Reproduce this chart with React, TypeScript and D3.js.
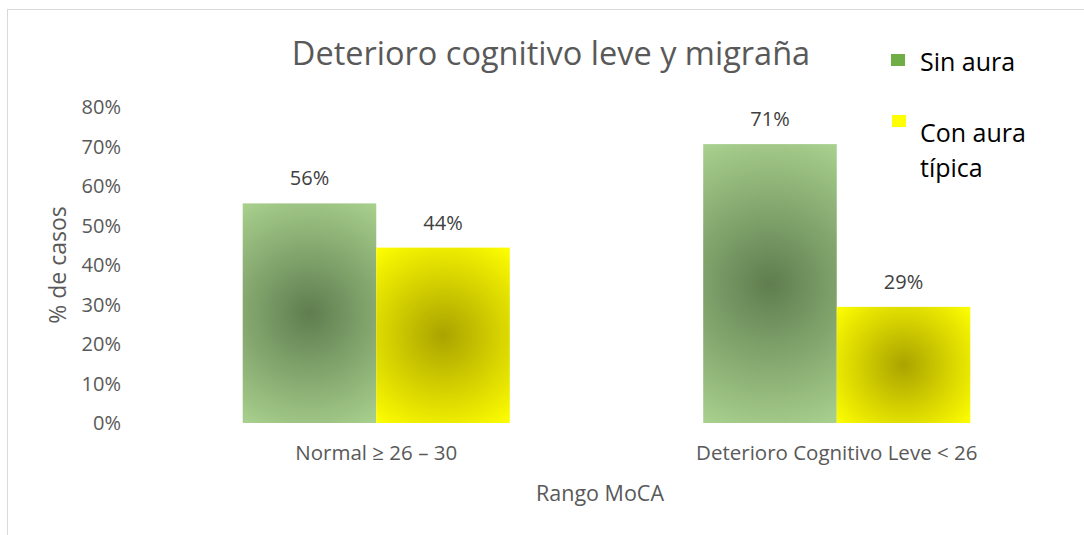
import React from 'react'
import * as d3 from 'd3'

// chart data
const categories = ['Normal ≥ 26 – 30', 'Deterioro Cognitivo Leve < 26']
const seriesNames = ['Sin aura', 'Con aura típica']
const sinAura = [55.6, 70.6]
const conAura = [44.4, 29.4]
const yTicks = [0, 10, 20, 30, 40, 50, 60, 70, 80]

const width = 1084
const height = 535
const font = '"Open Sans", "Noto Sans", sans-serif'
const textColor = '#595959'

// gradient colors (center -> edge) for each series
const fills = [
  { center: '#5f7d4f', edge: '#a9d18e', legend: '#70ad47' },
  { center: '#aaa300', edge: '#ffff00', legend: '#ffff00' },
]

const App = () => {
  const margin = { left: 146, right: 17, top: 107, bottom: 112 }

  const x = d3
    .scaleBand<string>()
    .domain(categories)
    .range([margin.left, width - margin.right])
    .paddingInner(0.42)
    .paddingOuter(0.21)

  const x1 = d3.scaleBand<number>().domain([0, 1]).range([0, x.bandwidth()])

  const y = d3
    .scaleLinear()
    .domain([0, 80])
    .range([height - margin.bottom, margin.top])

  const series = [sinAura, conAura]

  // one bar per (category, series)
  const bars = categories.flatMap((c, ci) =>
    series.map((vals, si) => {
      const bx = (x(c) ?? 0) + (x1(si) ?? 0)
      const by = y(vals[ci])
      return { key: `${ci}-${si}`, si, x: bx, y: by, w: x1.bandwidth(), h: y(0) - by, v: vals[ci] }
    })
  )

  return (
    <svg width={width} height={height} style={{ position: 'absolute', left: 0, top: 0 }}>
      <defs>
        {bars.map((b) => {
          const r = Math.sqrt((b.w / 2) ** 2 + (b.h / 2) ** 2)
          return (
            <radialGradient
              key={b.key}
              id={`grad-${b.key}`}
              gradientUnits="userSpaceOnUse"
              cx={b.x + b.w / 2}
              cy={b.y + b.h / 2}
              r={r}
            >
              <stop offset="0%" stopColor={fills[b.si].center} />
              <stop offset="100%" stopColor={fills[b.si].edge} />
            </radialGradient>
          )
        })}
      </defs>

      <rect x={0} y={0} width={width} height={height} fill="#fff" />
      {/* chart area border (right/bottom edges fall off the picture) */}
      <rect x={7.5} y={9.5} width={width + 20} height={height + 20} fill="none" stroke="#d9d9d9" />

      <text x={551} y={65} textAnchor="middle" fontFamily={font} fontSize={32.5} fill={textColor}>
        Deterioro cognitivo leve y migraña
      </text>

      {/* y axis tick labels */}
      {yTicks.map((t) => (
        <text
          key={t}
          x={121}
          y={y(t)}
          dy="0.35em"
          textAnchor="end"
          fontFamily={font}
          fontSize={20}
          fill={textColor}
        >
          {d3.format('d')(t)}%
        </text>
      ))}

      <text
        transform={`translate(66 ${y(40)}) rotate(-90)`}
        textAnchor="middle"
        fontFamily={font}
        fontSize={23}
        fill={textColor}
      >
        % de casos
      </text>

      {bars.map((b) => (
        <g key={b.key}>
          <rect x={b.x} y={b.y} width={b.w} height={b.h} fill={`url(#grad-${b.key})`} />
          <text
            x={b.x + b.w / 2}
            y={b.y - 18}
            textAnchor="middle"
            fontFamily={font}
            fontSize={20}
            fill="#404040"
          >
            {d3.format('.0f')(b.v)}%
          </text>
        </g>
      ))}

      {/* category labels */}
      {categories.map((c) => (
        <text
          key={c}
          x={(x(c) ?? 0) + x.bandwidth() / 2}
          y={460}
          textAnchor="middle"
          fontFamily={font}
          fontSize={20.5}
          fill={textColor}
        >
          {c}
        </text>
      ))}

      <text x={600} y={501} textAnchor="middle" fontFamily={font} fontSize={21.5} fill={textColor}>
        Rango MoCA
      </text>

      {/* legend */}
      <rect x={891} y={54} width={14} height={12} fill={fills[0].legend} />
      <text x={920} y={71} fontFamily={font} fontSize={25} fill="#000">
        {seriesNames[0]}
      </text>
      <rect x={892} y={115} width={14} height={12} fill={fills[1].legend} />
      <text x={920} y={142} fontFamily={font} fontSize={25} fill="#000">
        <tspan x={920}>Con aura</tspan>
        <tspan x={920} dy={35}>típica</tspan>
      </text>
    </svg>
  )
}

export default App
